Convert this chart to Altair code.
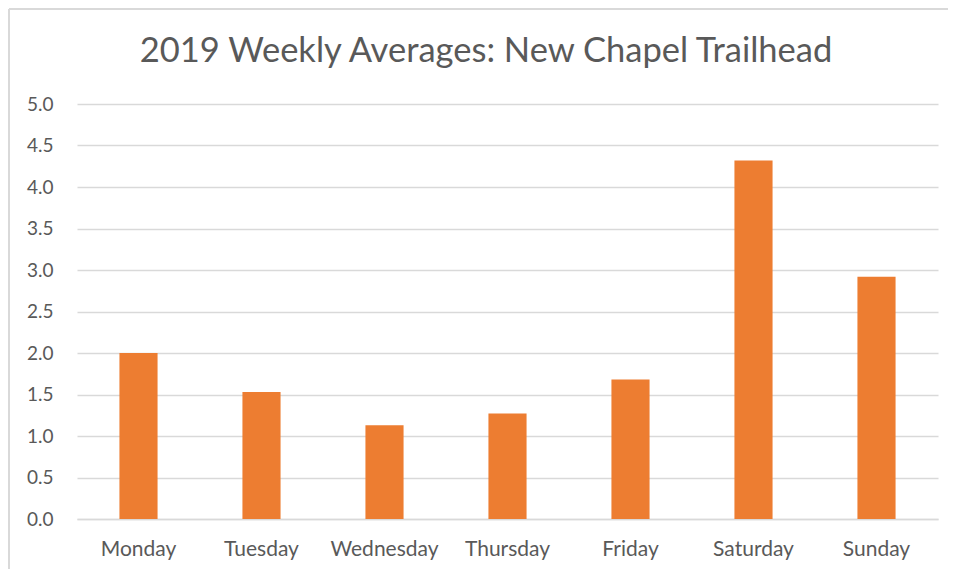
import altair as alt
import pandas as pd

days = ["Monday", "Tuesday", "Wednesday", "Thursday", "Friday", "Saturday", "Sunday"]
averages = [2.0, 1.53, 1.13, 1.27, 1.68, 4.32, 2.92]
y_ticks = [0.0, 0.5, 1.0, 1.5, 2.0, 2.5, 3.0, 3.5, 4.0, 4.5, 5.0]
title_text = "2019 Weekly Averages: New Chapel Trailhead"

df = pd.DataFrame({"day": days, "avg": averages})

FONT = "Lato"
GREY = "#595959"
FRAME = "#d9d9d9"

bars = (
    alt.Chart(df)
    .mark_bar(color="#ed7d31")
    .encode(
        x=alt.X(
            "day:N",
            sort=days,
            title=None,
            scale=alt.Scale(paddingInner=0.69, paddingOuter=0.345),
            axis=alt.Axis(
                labelAngle=0,
                labelFont=FONT,
                labelFontSize=21,
                labelColor=GREY,
                labelPadding=19,
                ticks=False,
                domain=True,
                domainColor="#d9d9d9",
                domainWidth=1.5,
                grid=False,
            ),
        ),
        y=alt.Y(
            "avg:Q",
            title=None,
            scale=alt.Scale(domain=[0, 5], nice=False),
            axis=alt.Axis(
                values=y_ticks,
                format=".1f",
                labelFont=FONT,
                labelFontSize=19,
                labelColor=GREY,
                labelPadding=24,
                ticks=False,
                domain=False,
                gridColor="#d9d9d9",
                gridWidth=1.5,
            ),
        ),
    )
)

frame_left = alt.Chart().mark_rule(color=FRAME, strokeWidth=2).encode(
    x=alt.value(-68), y=alt.value(-95), y2=alt.value(470)
)
frame_top = alt.Chart().mark_rule(color=FRAME, strokeWidth=2).encode(
    x=alt.value(-68), x2=alt.value(880), y=alt.value(-95)
)
title = alt.Chart().mark_text(
    font=FONT, fontSize=34.5, color=GREY, align="center", baseline="alphabetic"
).encode(x=alt.value(409), y=alt.value(-42), text=alt.value(title_text))

chart = (
    alt.layer(bars, frame_left, frame_top, title)
    .properties(
        width=861,
        height=415,
        autosize="none",
        padding={"left": 69, "top": 96, "right": 10, "bottom": 50},
    )
    .configure_view(stroke=None)
)

chart.save("out.html", embed_options={"renderer": "svg", "actions": False})
